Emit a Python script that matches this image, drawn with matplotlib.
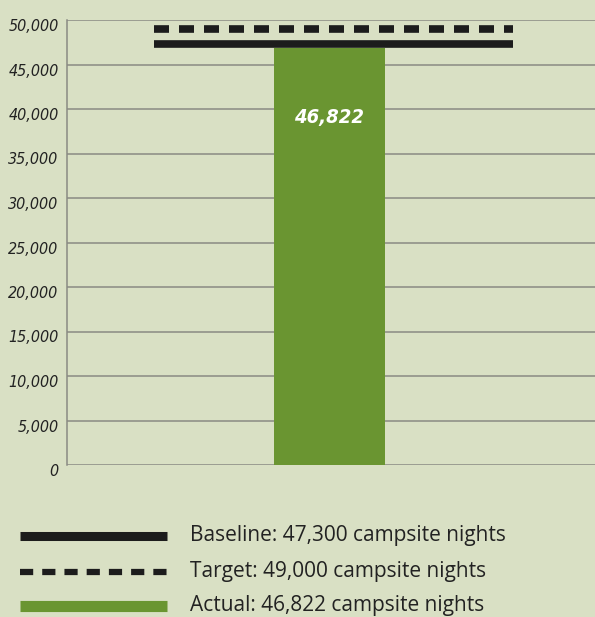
import matplotlib
matplotlib.use("Agg")
import matplotlib.pyplot as plt
from matplotlib.lines import Line2D
from matplotlib.transforms import ScaledTranslation

# Campsite nights: baseline, target and actual
categories = ["Actual"]
actual_values = [46822]
baseline_value = 47300
target_value = 49000
y_ticks = [0, 5000, 10000, 15000, 20000, 25000, 30000, 35000, 40000, 45000, 50000]
y_tick_labels = ["0", "5,000", "10,000", "15,000", "20,000", "25,000",
                 "30,000", "35,000", "40,000", "45,000", "50,000"]
legend_labels = ["Baseline: 47,300 campsite nights",
                 "Target: 49,000 campsite nights",
                 "Actual: 46,822 campsite nights"]

BG = "#d9e0c4"
GREEN = "#6a9531"
DARK = "#1c1c1c"
GRID = "#8a8a84"

plt.rcParams["lines.scale_dashes"] = False
narrow = ["DejaVu Sans", "DejaVu Sans"]

W, H = 595, 617
fig = plt.figure(figsize=(W / 100, H / 100), dpi=100, facecolor=BG)
ax = fig.add_axes([67 / W, 1 - 465 / H, 1 - 67 / W, (465 - 20) / H])
ax.set_facecolor(BG)

ax.set_xlim(0, 1)
ax.set_ylim(0, 50000)

# gridlines
for t in y_ticks:
    ax.axhline(t, color=GRID, lw=1.1, zorder=1)

# the actual bar
ax.bar([0.497], actual_values, width=0.21, color=GREEN, zorder=2)

# baseline and target reference lines
ax.plot([0.165, 0.845], [baseline_value, baseline_value], color=DARK, lw=5.5,
        solid_capstyle="butt", zorder=3)
ax.plot([0.165, 0.845], [target_value, target_value], color=DARK, lw=5.5,
        dashes=(10.8, 7.2), solid_capstyle="butt", dash_capstyle="butt", zorder=3)

# value label inside the bar
ax.text(0.497, 39000, f"{actual_values[0]:,}", ha="center", va="center",
        color="white", fontsize=14.5, fontweight="bold", style="italic",
        family=narrow, fontstretch="condensed", zorder=4)

ax.set_yticks(y_ticks)
ax.set_yticklabels(y_tick_labels, family=narrow, style="italic",
                   fontstretch="condensed", fontsize=11.5, color="#222222")
ax.tick_params(axis="y", length=0, pad=6)
shift = ScaledTranslation(0, -5 / 100, fig.dpi_scale_trans)
for lbl in ax.get_yticklabels():
    lbl.set_transform(lbl.get_transform() + shift)
ax.set_xticks([])
for s in ["top", "right", "bottom"]:
    ax.spines[s].set_visible(False)
ax.spines["left"].set_color(GRID)
ax.spines["left"].set_linewidth(1.1)

# legend drawn below the chart
x0, x1 = 20 / W, 167 / W
rows = [536, 572, 606]
styles = [dict(color=DARK, lw=6.5),
          dict(color=DARK, lw=4.5, dashes=(9.5, 6.5)),
          dict(color=GREEN, lw=8)]
for yp, st, lab in zip(rows, styles, legend_labels):
    y = 1 - yp / H
    fig.add_artist(Line2D([x0, x1], [y, y], transform=fig.transFigure,
                          solid_capstyle="butt", dash_capstyle="butt", **st))
    fig.text(190 / W, y, lab, ha="left", va="center", fontsize=15,
             family=["Open Sans", "DejaVu Sans"], color="#222222")

fig.savefig("out.png", dpi=100, facecolor=BG)
